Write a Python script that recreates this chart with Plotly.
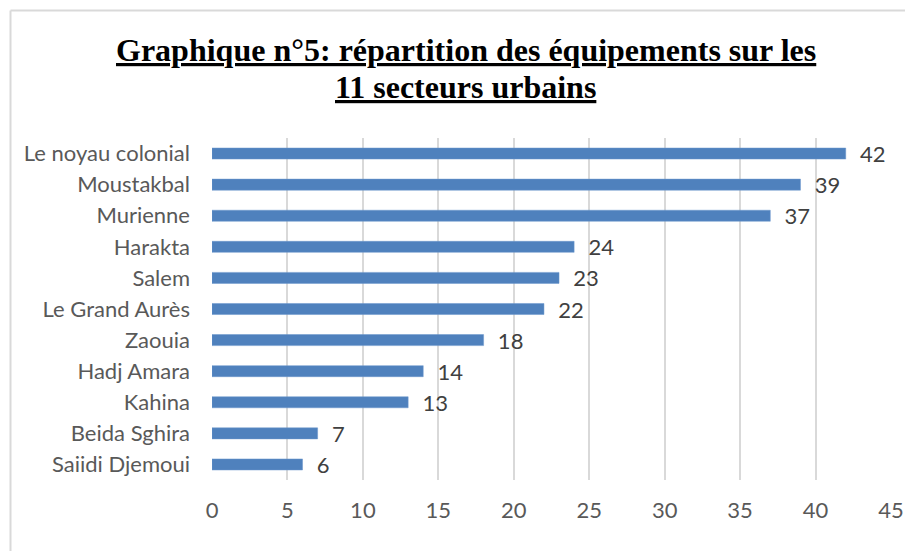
import plotly.graph_objects as go

categories = ["Le noyau colonial", "Moustakbal", "Murienne", "Harakta", "Salem",
              "Le Grand Aurès", "Zaouia", "Hadj Amara", "Kahina", "Beida Sghira",
              "Saiidi Djemoui"]
values = [42, 39, 37, 24, 23, 22, 18, 14, 13, 7, 6]
tick_vals = [0, 5, 10, 15, 20, 25, 30, 35, 40, 45]
title_lines = ["Graphique n°5: répartition des équipements sur les", "11 secteurs urbains"]

W, H = 905, 551
L, R, T, B = 212, 14, 138, 71
PW, PH = W - L - R, H - T - B


def px_x(x):
    return (x - L) / PW


def px_y(y):
    return (H - B - y) / PH


fig = go.Figure(go.Bar(
    y=categories, x=values, orientation="h",
    marker=dict(color="#4F81BD", line=dict(color="#6A97CC", width=0.5)),
    texttemplate="  %{x}", textposition="outside", constraintext="none",
    textfont=dict(family="Lato, sans-serif", size=22, color="#404040"),
    cliponaxis=False,
))

fig.update_layout(
    width=W, height=H,
    margin=dict(l=L, r=R, t=T, b=B, autoexpand=False),
    paper_bgcolor="white", plot_bgcolor="white",
    bargap=0.645,
    showlegend=False,
    font=dict(family="Lato, sans-serif", size=22, color="#595959"),
    xaxis=dict(range=[0, 45], tickvals=tick_vals, showgrid=True, gridcolor="#D9D9D9",
               gridwidth=1.5, zeroline=False, showline=False, ticks="",
               ticklabelstandoff=15, tickfont=dict(size=22, color="#595959")),
    yaxis=dict(autorange="reversed", showgrid=False, showline=False, ticks="",
               ticklabelstandoff=21, tickfont=dict(size=22, color="#595959")),
    annotations=[
        dict(text="<b><u>" + title_lines[0] + "</u></b>",
             xref="paper", yref="paper", x=px_x(466), y=px_y(50),
             xanchor="center", yanchor="middle", showarrow=False,
             font=dict(family="Liberation Serif, Times New Roman, serif", size=32, color="black")),
        dict(text="<b><u>" + title_lines[1] + "</u></b>",
             xref="paper", yref="paper", x=px_x(465), y=px_y(87),
             xanchor="center", yanchor="middle", showarrow=False,
             font=dict(family="Liberation Serif, Times New Roman, serif", size=32, color="black")),
    ],
    shapes=[
        dict(type="line", xref="paper", yref="paper",
             x0=px_x(10.5), x1=px_x(W + 5), y0=px_y(10.5), y1=px_y(10.5),
             line=dict(color="#D9D9D9", width=2)),
        dict(type="line", xref="paper", yref="paper",
             x0=px_x(10.5), x1=px_x(10.5), y0=px_y(10.5), y1=px_y(H + 5),
             line=dict(color="#D9D9D9", width=2)),
    ],
)

fig.write_html(
    "out.html",
    config={"displayModeBar": False},
    post_script="document.body.style.margin='0';document.documentElement.style.overflow='hidden';",
)
